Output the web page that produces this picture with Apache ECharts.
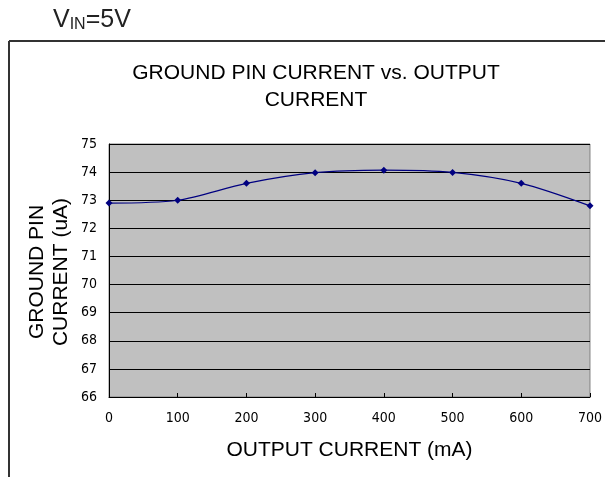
<!DOCTYPE html>
<html>
<head>
<meta charset="utf-8">
<script src="https://cdn.jsdelivr.net/npm/echarts@6/dist/echarts.min.js"></script>
<style>
html,body{margin:0;padding:0;background:#fff;}
#chart{width:605px;height:477px;}
</style>
</head>
<body>
<div id="chart"></div>
<script>
// Data
const outputCurrent = [0, 100, 200, 300, 400, 500, 600, 700];
const groundPinCurrent = [72.9, 73.0, 73.6, 73.98, 74.07, 73.99, 73.6, 72.8];
const yTicks = [66, 67, 68, 69, 70, 71, 72, 73, 74, 75];
const xTicks = [0, 100, 200, 300, 400, 500, 600, 700];

const chart = echarts.init(document.getElementById('chart'), null, {renderer: 'canvas'});
const fontFam = 'Liberation Sans, Arial, sans-serif';
const tickFont = 'Liberation Sans Narrow, DejaVu Sans Condensed, sans-serif';

const option = {
  animation: false,
  backgroundColor: '#ffffff',
  title: [{
    text: 'GROUND PIN CURRENT vs. OUTPUT\nCURRENT',
    left: 311,
    top: 55,
    textAlign: 'center',
    textStyle: {fontFamily: fontFam, fontSize: 21, fontWeight: 'normal', color: '#000', lineHeight: 27}
  }],
  graphic: [
    {type: 'line', shape: {x1: 9, y1: 41, x2: 605, y2: 41}, style: {stroke: '#333', lineWidth: 2}},
    {type: 'line', shape: {x1: 9, y1: 41, x2: 9, y2: 477}, style: {stroke: '#333', lineWidth: 2}},
    {type: 'text', x: 53, y: 5, style: {
      text: '{v|V}{s|IN}{v|=5V}',
      rich: {
        v: {fontFamily: fontFam, fontSize: 25, fontWeight: 'normal', fill: '#222', verticalAlign: 'bottom', lineHeight: 28},
        s: {fontFamily: fontFam, fontSize: 16, fontWeight: 'normal', fill: '#222', verticalAlign: 'bottom', lineHeight: 22}
      }
    }},
    {type: 'text', x: 49, y: 272, rotation: Math.PI / 2, style: {x: 0, y: 0, text: 'GROUND PIN\nCURRENT (uA)', font: '21px ' + fontFam, fill: '#000', align: 'center', verticalAlign: 'middle', lineHeight: 24}}
  ],
  grid: {left: 109, right: 15, top: 144, bottom: 80, show: true, backgroundColor: '#c0c0c0', borderColor: '#808080', borderWidth: 1},
  xAxis: {
    type: 'value',
    min: 0, max: 700, interval: 100,
    name: 'OUTPUT CURRENT (mA)',
    nameLocation: 'middle',
    nameGap: 43,
    nameTextStyle: {fontFamily: fontFam, fontSize: 21, color: '#000'},
    axisLine: {show: true, lineStyle: {color: '#000', width: 1}},
    axisTick: {show: true, inside: true, length: 4, lineStyle: {color: '#000'}},
    axisLabel: {fontFamily: tickFont, fontSize: 14, color: '#000', margin: 14,
      formatter: v => xTicks.includes(v) ? String(v) : ''},
    splitLine: {show: false}
  },
  yAxis: {
    type: 'value',
    min: 66, max: 75, interval: 1,
    axisLine: {show: true, lineStyle: {color: '#000', width: 1}},
    axisTick: {show: false},
    axisLabel: {fontFamily: tickFont, fontSize: 14, color: '#000', margin: 12,
      formatter: v => yTicks.includes(v) ? String(v) : ''},
    splitLine: {show: true, lineStyle: {color: '#000', width: 1.2}}
  },
  series: [{
    type: 'line',
    data: outputCurrent.map((x, i) => [x, groundPinCurrent[i]]),
    smooth: 0.3,
    symbol: 'diamond',
    symbolSize: 7,
    lineStyle: {color: '#000080', width: 1.2},
    itemStyle: {color: '#000080'}
  }]
};
chart.setOption(option);
</script>
</body>
</html>
